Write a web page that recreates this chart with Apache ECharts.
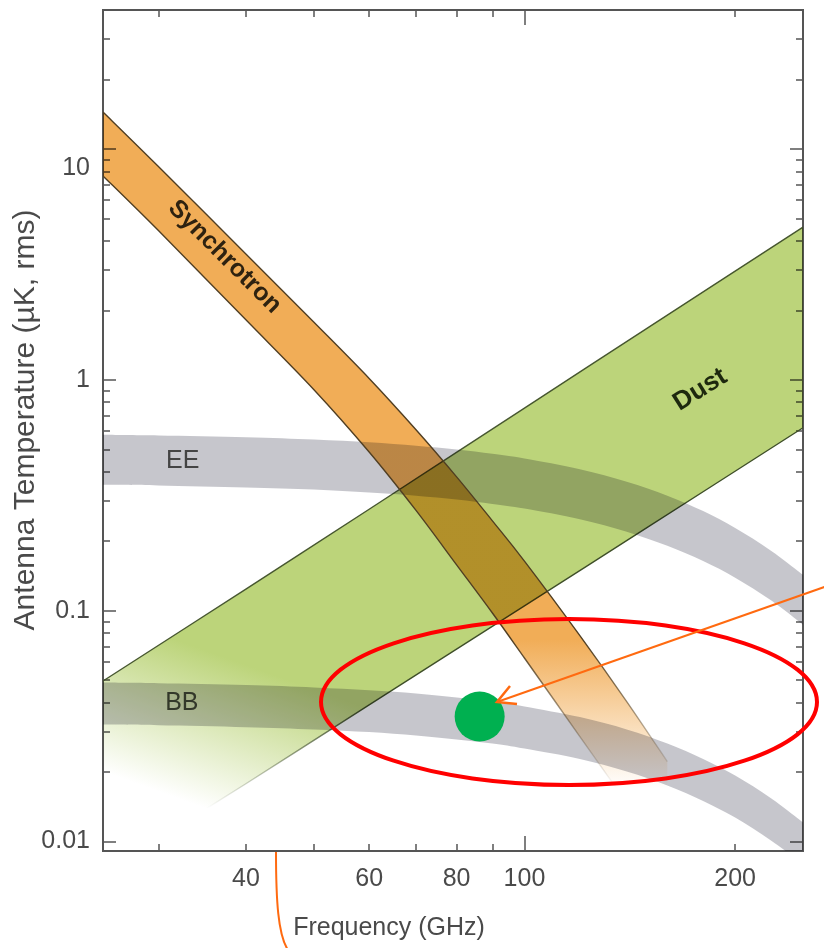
<!DOCTYPE html>
<html>
<head>
<meta charset="utf-8">
<script src="https://cdn.jsdelivr.net/npm/echarts@6/dist/echarts.min.js"></script>
<style>
  html, body { margin: 0; padding: 0; background: #ffffff; }
  #chart { width: 824px; height: 948px; }
</style>
</head>
<body>
<div id="chart"></div>
<script>
// ---- Foreground / CMB polarization amplitudes (antenna temperature, uK rms) ----
const cmbFreq = [25, 30, 40, 50, 60, 70, 80, 90, 100, 120, 140, 160, 180, 200, 225, 250];
const eeUpper = [0.578, 0.574, 0.564, 0.551, 0.536, 0.518, 0.499, 0.478, 0.456, 0.410, 0.362, 0.315, 0.270, 0.228, 0.182, 0.143];
const eeLower = [0.351, 0.349, 0.342, 0.335, 0.325, 0.315, 0.303, 0.290, 0.277, 0.249, 0.220, 0.191, 0.164, 0.139, 0.111, 0.087];
const bbUpper = [0.0488, 0.0485, 0.0476, 0.0465, 0.0452, 0.0438, 0.0421, 0.0404, 0.0385, 0.0346, 0.0306, 0.0266, 0.0228, 0.0193, 0.0154, 0.0121];
const bbLower = [0.0321, 0.0319, 0.0313, 0.0306, 0.0298, 0.0288, 0.0277, 0.0266, 0.0253, 0.0228, 0.0201, 0.0175, 0.0150, 0.0127, 0.0101, 0.0080];

const synchFreq = [25, 30, 40, 50, 60, 70, 80, 90, 100, 120, 140, 160];
const synchUpper = [14.46, 8.40, 3.51, 1.78, 1.014, 0.608, 0.380, 0.245, 0.164, 0.078, 0.0404, 0.0222];
const synchLower = [7.64, 4.43, 1.82, 0.909, 0.487, 0.272, 0.158, 0.0977, 0.0624, 0.0285, 0.0147, 0.0083];

const dustFreq = [25, 40, 60, 100, 150, 250];
const dustUpper = [0.0496, 0.124, 0.275, 0.754, 1.68, 4.59];
const dustLower = [0.0073, 0.0178, 0.0391, 0.105, 0.230, 0.620];

// highlighted point on the BB band
const spot = [86.3, 0.0348];

// ---- axis ticks and labels ----
const xLabelValues = [40, 60, 80, 100, 200];
const xMajorTicks = [100];
const xMinorTicks = [30, 40, 50, 60, 70, 80, 90, 200];
const yLabelValues = [0.01, 0.1, 1, 10];
const yMajorTicks = [0.01, 0.1, 1, 10];
const yMinorTicks = [0.02, 0.03, 0.04, 0.05, 0.06, 0.07, 0.08, 0.09,
                     0.2, 0.3, 0.4, 0.5, 0.6, 0.7, 0.8, 0.9,
                     2, 3, 4, 5, 6, 7, 8, 9, 20, 30];

const FONT = '"Liberation Sans", Arial, Helvetica, sans-serif';
const X_MIN = 25, X_MAX = 250, Y_MIN = 0.0091, Y_MAX = 40;
const TICK_COLOR = '#555';

const chart = echarts.init(document.getElementById('chart'), null, { renderer: 'canvas' });

function clipRect(cs) {
  return { type: 'rect', shape: { x: cs.x, y: cs.y, width: cs.width, height: cs.height } };
}

// Smooth (Catmull-Rom) curve through pixel points, as SVG path commands after a move-to.
function curveThrough(pts) {
  let d = '';
  for (let i = 0; i < pts.length - 1; i++) {
    const p0 = pts[i - 1] || pts[i], p1 = pts[i], p2 = pts[i + 1], p3 = pts[i + 2] || p2;
    const c1x = p1[0] + (p2[0] - p0[0]) / 6, c1y = p1[1] + (p2[1] - p0[1]) / 6;
    const c2x = p2[0] - (p3[0] - p1[0]) / 6, c2y = p2[1] - (p3[1] - p1[1]) / 6;
    d += ' C' + c1x + ',' + c1y + ' ' + c2x + ',' + c2y + ' ' + p2[0] + ',' + p2[1];
  }
  return d;
}
const moveTo = p => 'M' + p[0] + ',' + p[1];

const bandFillStyles = new Set();

// Band between two edges; the fills are multiplied onto whatever lies beneath.
function bandItem(freqs, upper, lower, opts) {
  return function (params, api) {
    const cs = params.coordSys;
    const top = freqs.map((f, i) => api.coord([f, upper[i]]));
    const bot = freqs.map((f, i) => api.coord([f, lower[i]]));
    const botRev = bot.slice().reverse();
    const fill = opts.fill(api);
    bandFillStyles.add(fill);
    const children = [{
      type: 'path', name: 'bandFill',
      shape: { pathData: moveTo(top[0]) + curveThrough(top) + ' L' + botRev[0][0] + ',' + botRev[0][1] + curveThrough(botRev) + ' Z' },
      style: { fill: fill }
    }];
    if (opts.topStroke) {
      children.push({ type: 'path', shape: { pathData: moveTo(top[0]) + curveThrough(top) },
        style: { fill: null, stroke: opts.topStroke(api), lineWidth: 1.4 } });
    }
    if (opts.bottomStroke) {
      children.push({ type: 'path', shape: { pathData: moveTo(bot[0]) + curveThrough(bot) },
        style: { fill: null, stroke: opts.bottomStroke(api), lineWidth: 1.4 } });
    }
    return { type: 'group', clipPath: clipRect(cs), children: children };
  };
}

const grayFill = () => 'rgb(198,198,204)';

function dustGradient(api, rgb) {
  const a = api.coord([32.3, 0.0152]);
  const b = api.coord([38.1, 0.0614]);
  return new echarts.graphic.LinearGradient(a[0], a[1], b[0], b[1], [
    { offset: 0, color: 'rgba(' + rgb + ',0)' },
    { offset: 1, color: 'rgba(' + rgb + ',1)' }
  ], true);
}
function synchGradient(api, rgb) {
  const a = api.coord([100, 0.075]);
  const b = api.coord([100, 0.017]);
  return new echarts.graphic.LinearGradient(0, a[1], 0, b[1], [
    { offset: 0, color: 'rgba(' + rgb + ',1)' },
    { offset: 1, color: 'rgba(' + rgb + ',0)' }
  ], true);
}

function xAxisDef(position, ticks, len, labels) {
  return {
    type: 'log', logBase: 10, min: X_MIN, max: X_MAX, position: position,
    axisLine: { show: false }, splitLine: { show: false },
    axisTick: { show: true, inside: true, length: len, customValues: ticks,
      lineStyle: { color: TICK_COLOR, width: 1.5 } },
    axisLabel: labels ? {
      show: true, customValues: labels, margin: 16, fontSize: 25, color: '#4a4a4a',
      fontFamily: FONT, formatter: v => String(Math.round(v))
    } : { show: false }
  };
}
function yAxisDef(position, ticks, len, labels) {
  return {
    type: 'log', logBase: 10, min: Y_MIN, max: Y_MAX, position: position,
    axisLine: { show: false }, splitLine: { show: false },
    axisTick: { show: true, inside: true, length: len, customValues: ticks,
      lineStyle: { color: TICK_COLOR, width: 1.5 } },
    axisLabel: labels ? {
      show: true, customValues: labels, margin: 13, fontSize: 25, color: '#4a4a4a',
      fontFamily: FONT,
      formatter: v => {
        const s = String(parseFloat(Number(v).toPrecision(3)));
        return s === '10' ? '{low|10}' : s;
      },
      rich: { low: { fontSize: 25, fontFamily: FONT, color: '#4a4a4a', padding: [38, 0, 0, 0] } }
    } : { show: false }
  };
}

// Band labels, axis titles and annotations
function label(text, pos, opts) {
  return {
    type: 'text', x: pos[0], y: pos[1], rotation: opts.rotation || 0, z: 50,
    style: {
      text: text, x: 0, y: 0, align: 'center', verticalAlign: 'middle',
      textAlign: 'center', textVerticalAlign: 'middle',
      font: (opts.weight || 'normal') + ' ' + opts.size + 'px ' + FONT,
      fill: opts.color
    }
  };
}

chart.setOption({
  animation: false,
  backgroundColor: '#ffffff',
  grid: { left: 103, right: 21, top: 10, bottom: 97, show: true,
          borderColor: '#555555', borderWidth: 2, backgroundColor: 'transparent' },
  xAxis: [
    xAxisDef('bottom', xMajorTicks, 15, xLabelValues),
    xAxisDef('bottom', xMinorTicks, 7, null),
    xAxisDef('top', xMajorTicks, 15, null),
    xAxisDef('top', xMinorTicks, 7, null)
  ],
  yAxis: [
    yAxisDef('left', yMajorTicks, 13, yLabelValues),
    yAxisDef('left', yMinorTicks, 7, null),
    yAxisDef('right', yMajorTicks, 13, null),
    yAxisDef('right', yMinorTicks, 7, null)
  ],
  series: [
    {
      name: 'Dust', type: 'custom', xAxisIndex: 0, yAxisIndex: 0, z: 2,
      data: [[dustFreq[0], dustUpper[0]]],
      renderItem: bandItem(dustFreq, dustUpper, dustLower, {
        fill: api => dustGradient(api, '188,212,122'),
        topStroke: () => 'rgba(62,78,40,0.95)',
        bottomStroke: api => dustGradient(api, '62,78,40')
      })
    },
    {
      name: 'EE', type: 'custom', xAxisIndex: 0, yAxisIndex: 0, z: 3,
      data: [[cmbFreq[0], eeUpper[0]]],
      renderItem: bandItem(cmbFreq, eeUpper, eeLower, { fill: grayFill })
    },
    {
      name: 'BB', type: 'custom', xAxisIndex: 0, yAxisIndex: 0, z: 3,
      data: [[cmbFreq[0], bbUpper[0]]],
      renderItem: bandItem(cmbFreq, bbUpper, bbLower, { fill: grayFill })
    },
    {
      name: 'Synchrotron', type: 'custom', xAxisIndex: 0, yAxisIndex: 0, z: 4,
      data: [[synchFreq[0], synchUpper[0]]],
      renderItem: bandItem(synchFreq, synchUpper, synchLower, {
        fill: api => synchGradient(api, '241,173,87'),
        topStroke: api => synchGradient(api, '80,62,34'),
        bottomStroke: api => synchGradient(api, '80,62,34')
      })
    },
    {
      name: 'spot', type: 'scatter', xAxisIndex: 0, yAxisIndex: 0, z: 20,
      symbol: 'circle', symbolSize: 50,
      itemStyle: { color: '#00b050', opacity: 1 },
      data: [spot]
    }
  ]
});

const toPx = p => chart.convertToPixel({ xAxisIndex: 0, yAxisIndex: 0 }, p);

chart.setOption({
  graphic: [
    label('EE', toPx([32.5, 0.446]), { size: 25, color: '#444444' }),
    label('BB', toPx([32.4, 0.0396]), { size: 25, color: '#33382a' }),
    label('Synchrotron', toPx([37.3, 3.41]), { size: 25, weight: 'bold', color: '#2e2210', rotation: -Math.PI / 4 }),
    label('Dust', toPx([178.3, 0.905]), { size: 26, weight: 'bold', color: '#1d280e', rotation: 0.56 }),
    label('Antenna Temperature (\u00b5K, rms)', [26, 420], { size: 30, color: '#4a4a4a', rotation: Math.PI / 2 }),
    label('Frequency (GHz)', [389, 928], { size: 25, color: '#4a4a4a' }),
    { type: 'ellipse', z: 60, shape: { cx: 569, cy: 702, rx: 248, ry: 83 },
      style: { fill: null, stroke: '#ff0000', lineWidth: 4 } },
    { type: 'line', z: 61, shape: { x1: 830, y1: 585, x2: 497, y2: 702 },
      style: { stroke: '#ff6a10', lineWidth: 2 } },
    { type: 'polyline', z: 61, shape: { points: [[510, 686], [497, 702], [517, 704]] },
      style: { fill: null, stroke: '#ff6a10', lineWidth: 2.5 } },
    { type: 'bezierCurve', z: 61,
      shape: { x1: 276, y1: 852, cpx1: 276, cpy1: 900, cpx2: 278, cpy2: 935, x2: 288, y2: 950 },
      style: { fill: null, stroke: '#ff6a10', lineWidth: 2 } }
  ]
});

// Overlapping bands combine multiplicatively, like stacked transparencies.
(function multiplyBands() {
  const zr = chart.getZr();
  zr.storage.getDisplayList(true).forEach(el => {
    if (el.name === 'bandFill' || (el.style && bandFillStyles.has(el.style.fill))) {
      el.style.blend = 'multiply';
      el.markRedraw();
    }
  });
  zr.refreshImmediately();
})();
</script>
</body>
</html>
